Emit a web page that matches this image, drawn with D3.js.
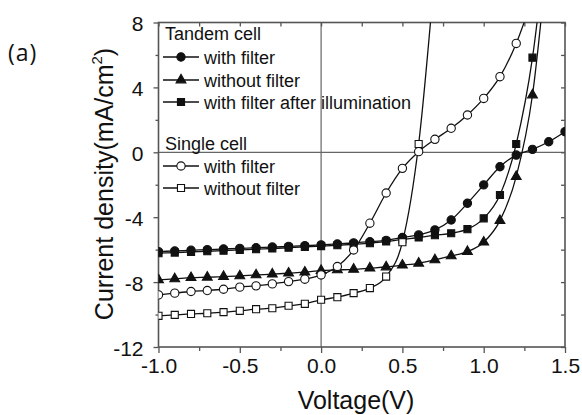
<!DOCTYPE html>
<html>
<head>
<meta charset="utf-8">
<script src="https://cdn.jsdelivr.net/npm/d3@7"></script>
<style>
  html, body { margin: 0; padding: 0; background: #fff; }
  svg { display: block; }
  text { font-family: "Liberation Sans", Arial, sans-serif; fill: #111; }
</style>
</head>
<body>
<svg id="chart" width="582" height="415"></svg>
<script>
// Bias voltage (V), one marker every 0.1 V
const voltage = [-1.0, -0.9, -0.8, -0.7, -0.6, -0.5, -0.4, -0.3, -0.2, -0.1,
                 0.0, 0.1, 0.2, 0.3, 0.4, 0.5, 0.6, 0.7, 0.8, 0.9,
                 1.0, 1.1, 1.2, 1.3, 1.4, 1.5];

// Current density (mA/cm^2); null = beyond the last recorded point
const tandemWithFilter = [-6.12, -6.08, -6.04, -6.00, -5.96, -5.92, -5.88, -5.84, -5.80, -5.76,
                          -5.71, -5.65, -5.58, -5.51, -5.43, -5.25, -5.09, -4.78, -4.17, -3.14,
                          -2.01, -0.89, -0.17, 0.18, 0.65, 1.27];
const tandemWithoutFilter = [-7.86, -7.80, -7.73, -7.70, -7.66, -7.62, -7.56, -7.51, -7.45, -7.39,
                             -7.29, -7.25, -7.21, -7.14, -7.07, -6.96, -6.84, -6.63, -6.39, -6.12,
                             -5.54, -4.21, -1.50, 3.53, 13.0, null];
const tandemAfterIllum = [-6.22, -6.18, -6.14, -6.10, -6.06, -6.02, -5.97, -5.93, -5.88, -5.83,
                          -5.78, -5.73, -5.67, -5.60, -5.50, -5.37, -5.25, -5.11, -4.99, -4.74,
                          -4.07, -2.63, 0.51, 5.83, 14.5, null];
const singleWithFilter = [-8.79, -8.68, -8.58, -8.52, -8.44, -8.31, -8.23, -8.11, -7.97, -7.82,
                          -7.56, -7.04, -6.02, -4.37, -2.51, -0.99, 0.04, 0.80, 1.48, 2.30,
                          3.32, 4.66, 6.71, 9.5, null, null];
const singleWithoutFilter = [-10.08, -10.02, -9.96, -9.92, -9.85, -9.77, -9.67, -9.61, -9.46, -9.34,
                             -9.09, -8.93, -8.68, -8.37, -7.66, -5.54, 0.51, 11.2, null, null,
                             null, null, null, null, null, null];

// Axis ticks
const xTicks = [-1.0, -0.5, 0.0, 0.5, 1.0, 1.5];
const xMinorTicks = [-0.75, -0.25, 0.25, 0.75, 1.25];
const yTicks = [-12, -8, -4, 0, 4, 8];
const yMinorTicks = [-10, -6, -2, 2, 6];

// Legend groups
const groupTitles = ["Tandem cell", "Single cell"];
const seriesLabels = ["with filter", "without filter", "with filter after illumination",
                      "with filter", "without filter"];

const series = [
  { values: tandemWithFilter, symbol: d3.symbolCircle, filled: true, size: 54 },
  { values: tandemWithoutFilter, symbol: d3.symbolTriangle, filled: true, size: 42 },
  { values: tandemAfterIllum, symbol: d3.symbolSquare, filled: true, size: 50 },
  { values: singleWithFilter, symbol: d3.symbolCircle, filled: false, size: 54 },
  { values: singleWithoutFilter, symbol: d3.symbolSquare, filled: false, size: 50 }
];

const svg = d3.select("#chart");
svg.append("rect").attr("width", 582).attr("height", 415).attr("fill", "#fff");

const plotLeft = 158.5, plotRight = 565, plotTop = 22.5, plotBottom = 347;
const x = d3.scaleLinear().domain([-1.0, 1.5]).range([plotLeft, plotRight]);
const y = d3.scaleLinear().domain([-12, 8]).range([plotBottom, plotTop]);

svg.append("defs").append("clipPath").attr("id", "plot-clip")
  .append("rect").attr("x", plotLeft).attr("y", plotTop)
  .attr("width", plotRight - plotLeft).attr("height", plotBottom - plotTop);

// Zero reference lines
const frameColor = "#555";
svg.append("line").attr("x1", x(0)).attr("x2", x(0)).attr("y1", plotTop).attr("y2", plotBottom)
  .attr("stroke", "#666").attr("stroke-width", 1.2);
svg.append("line").attr("x1", plotLeft).attr("x2", plotRight).attr("y1", y(0)).attr("y2", y(0))
  .attr("stroke", "#666").attr("stroke-width", 1.2);

// Axes
function styleAxis(g) {
  g.select(".domain").remove();
  g.selectAll(".tick line").attr("stroke", frameColor).attr("stroke-width", 1.3);
  g.selectAll(".tick text").attr("fill", "#111")
    .style("font-family", '"Liberation Sans", Arial, sans-serif').style("font-size", "21px");
}

svg.append("g").attr("transform", `translate(0,${plotBottom})`)
  .call(d3.axisBottom(x).tickValues(xTicks).tickSize(6).tickPadding(5)
    .tickFormat(d => d.toFixed(1)))
  .call(styleAxis);
svg.append("g").attr("transform", `translate(0,${plotBottom})`)
  .call(d3.axisBottom(x).tickValues(xMinorTicks).tickSize(4).tickFormat(""))
  .call(styleAxis);

svg.append("g").attr("transform", `translate(${plotLeft},0)`)
  .call(d3.axisLeft(y).tickValues(yTicks).tickSize(5).tickPadding(10)
    .tickFormat(d => String(d)))
  .call(styleAxis)
  .selectAll(".tick text").attr("dy", "0.4em");
svg.append("g").attr("transform", `translate(${plotLeft},0)`)
  .call(d3.axisLeft(y).tickValues(yMinorTicks).tickSize(3).tickFormat(""))
  .call(styleAxis);

// Mirrored ticks on top and right, pointing inward
svg.append("g").attr("transform", `translate(0,${plotTop})`)
  .call(d3.axisBottom(x).tickValues(xTicks.concat(xMinorTicks)).tickSize(4).tickFormat(""))
  .call(styleAxis);
svg.append("g").attr("transform", `translate(${plotRight},0)`)
  .call(d3.axisLeft(y).tickValues(yTicks.concat(yMinorTicks)).tickSize(4).tickFormat(""))
  .call(styleAxis);

// Frame
svg.append("rect").attr("x", plotLeft).attr("y", plotTop)
  .attr("width", plotRight - plotLeft).attr("height", plotBottom - plotTop)
  .attr("fill", "none").attr("stroke", frameColor).attr("stroke-width", 1.6);

// Curves and markers
const plot = svg.append("g").attr("clip-path", "url(#plot-clip)");
const line = d3.line()
  .defined(d => d[1] !== null)
  .x(d => x(d[0])).y(d => y(d[1]))
  .curve(d3.curveMonotoneX);

series.forEach(s => {
  const pts = voltage.map((v, i) => [v, s.values[i]]);
  plot.append("path").datum(pts).attr("d", line)
    .attr("fill", "none").attr("stroke", "#111").attr("stroke-width", 1.3);
});
series.forEach(s => {
  const pts = voltage.map((v, i) => [v, s.values[i]]).filter(d => d[1] !== null);
  plot.selectAll(null).data(pts).enter().append("path")
    .attr("d", d3.symbol().type(s.symbol).size(s.size))
    .attr("transform", d => `translate(${x(d[0])},${y(d[1])})`)
    .attr("fill", s.filled ? "#111" : "#fff")
    .attr("stroke", "#111").attr("stroke-width", 1.1);
});

// Legend
const legend = svg.append("g").style("font-size", "18px");
legend.append("text").attr("x", 165).attr("y", 40).text(groupTitles[0]);
legend.append("text").attr("x", 165).attr("y", 150).text(groupTitles[1]);
const rowY = [57, 80, 102, 166, 188];
series.forEach((s, i) => {
  const g = legend.append("g").attr("transform", `translate(0,${rowY[i]})`);
  g.append("line").attr("x1", 163).attr("x2", 199).attr("stroke", "#111").attr("stroke-width", 1.3);
  g.append("path").attr("d", d3.symbol().type(s.symbol).size(s.size))
    .attr("transform", "translate(181,0)")
    .attr("fill", s.filled ? "#111" : "#fff").attr("stroke", "#111").attr("stroke-width", 1.1);
  g.append("text").attr("x", 204).attr("y", 6.5).text(seriesLabels[i]);
});

// Axis titles
svg.append("text").attr("x", 356).attr("y", 409).attr("text-anchor", "middle")
  .style("font-size", "25px").text("Voltage(V)");
const yTitle = svg.append("text")
  .attr("transform", "translate(113,184) rotate(-90)")
  .attr("text-anchor", "middle").style("font-size", "25px");
yTitle.append("tspan").text("Current density(mA/cm");
yTitle.append("tspan").attr("dy", -11).style("font-size", "15px").text("2");
yTitle.append("tspan").attr("dy", 11).text(")");

// Panel letter
svg.append("text").attr("x", 8).attr("y", 61)
  .style("font-family", '"Open Sans", "Noto Sans", sans-serif').style("font-size", "23px")
  .style("letter-spacing", "1px").text("(a)");
</script>
</body>
</html>
